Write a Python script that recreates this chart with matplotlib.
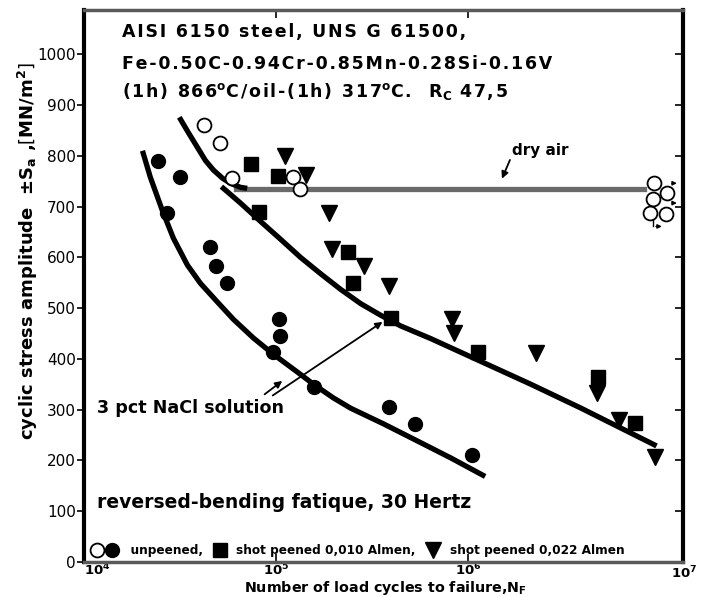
import numpy as np
import matplotlib
matplotlib.use("Agg")
import matplotlib.pyplot as plt
from matplotlib.legend_handler import HandlerTuple
from matplotlib.lines import Line2D

plt.rcParams['font.family'] = ['DejaVu Sans']
plt.rcParams['mathtext.default'] = 'bf'

# ---------------- data ----------------
# unpeened, dry air (open circles)
air_N = [4.24e4, 5.13e4, 5.93e4, 1.22e5, 1.34e5]
air_S = [860, 825, 756, 758, 734]
# dry-air run-outs (open circles at 10^7)
runout_N = [9.35e6, 1.09e7, 9.25e6, 8.9e6, 1.08e7]
runout_S = [746, 726, 716, 687, 685]
# unpeened, 3 pct NaCl (filled circles)
nacl_N = [2.43e4, 3.17e4, 2.71e4, 4.55e4, 4.89e4, 5.58e4, 1.04e5, 1.05e5,
          9.7e4, 1.57e5, 3.87e5, 5.28e5, 1.05e6]
nacl_S = [789, 758, 687, 620, 583, 549, 478, 445, 413, 344, 305, 272, 211]
# shot peened 0.010 Almen (squares)
sq_N = [7.45e4, 1.02e5, 8.2e4, 2.36e5, 2.51e5, 3.96e5, 1.13e6, 4.77e6, 7.45e6]
sq_S = [783, 760, 689, 610, 549, 480, 413, 364, 274]
# shot peened 0.022 Almen (triangles)
tri_N = [1.12e5, 1.44e5, 1.88e5, 1.95e5, 2.86e5, 3.86e5, 8.24e5, 8.45e5,
         2.26e6, 4.72e6, 6.15e6, 9.48e6]
tri_S = [799, 762, 687, 616, 583, 543, 478, 451, 411, 333, 280, 207]

# hand-drawn trend curves (log10 N, S)
dry_curve_logN = [4.496, 4.543, 4.590, 4.632, 4.674, 4.721, 4.762, 4.815, 4.850]
dry_curve_S = [876, 846, 817, 791, 772, 756, 746, 738, 736]
dry_flat_logN = [4.79, 6.919]
dry_flat_S = [735, 735]
nacl_curve_logN = [4.308, 4.345, 4.407, 4.465, 4.538, 4.606, 4.695, 4.778, 4.883,
                   4.987, 5.112, 5.196, 5.300, 5.389, 5.561, 5.739, 5.911, 6.078]
nacl_curve_S = [805, 758, 693, 638, 585, 549, 512, 478, 441, 409, 374, 350, 323,
                303, 272, 238, 205, 171]
peen_curve_logN = [4.726, 4.815, 4.919, 5.023, 5.128, 5.232, 5.337, 5.441, 5.546,
                   5.650, 5.807, 6.068, 6.329, 6.590, 6.971]
peen_curve_S = [736, 707, 671, 636, 600, 568, 537, 509, 486, 465, 440, 395, 350,
                303, 231]

yticks = list(range(0, 1001, 100))
xticks = [1e4, 1e5, 1e6]
xticklabels = ['$10^{4}$', '$10^{5}$', '$10^{6}$']


def spaced(s):
    """add hair spaces between letters outside math segments (letter-spaced look)"""
    parts = s.split('$')
    for i in range(0, len(parts), 2):
        parts[i] = '\u200a'.join(parts[i])
    return '$'.join(parts)


# ---------------- figure ----------------
fig = plt.figure(figsize=(7.01, 5.97), dpi=100)
ax = fig.add_axes([0.120, 0.0586, 0.854, 0.9244])
ax.set_xscale('log')
ax.set_xlim(1e4, 10**7.12)
ax.set_ylim(0, 1087)

# curves
lw = 3.8
ax.plot(10**np.array(dry_flat_logN), dry_flat_S, color='#6a6a6a', lw=lw, zorder=2)
ax.plot(10**np.array(dry_curve_logN), dry_curve_S, color='black', lw=lw,
        solid_capstyle='butt', zorder=3)
ax.plot(10**np.array(nacl_curve_logN), nacl_curve_S, color='black', lw=lw, zorder=3)
ax.plot(10**np.array(peen_curve_logN), peen_curve_S, color='black', lw=lw, zorder=3)

# markers
ms = 10
ax.plot(air_N, air_S, 'o', ms=ms, mfc='white', mec='black', mew=1.3, zorder=5)
ax.plot(runout_N, runout_S, 'o', ms=ms, mfc='white', mec='black', mew=1.3, zorder=5)
ax.plot(nacl_N, nacl_S, 'o', ms=ms, color='black', zorder=5)
ax.plot(sq_N, sq_S, 's', ms=ms, color='black', zorder=5)
ax.plot(tri_N, tri_S, 'v', ms=11, color='black', zorder=5)

# run-out arrows
arr = dict(arrowstyle='-|>', color='black', lw=1.0, mutation_scale=6)
ax.annotate('', xy=(1.27e7, 746), xytext=(1.12e7, 746), arrowprops=arr)
ax.annotate('', xy=(1.27e7, 707), xytext=(1.12e7, 707), arrowprops=arr)
ax.plot([9.25e6, 9.25e6], [703, 661], color='black', lw=1.0)
ax.annotate('', xy=(1.06e7, 661), xytext=(9.25e6, 661), arrowprops=arr)

# annotations
ax.annotate('', xy=(10**6.172, 750), xytext=(10**6.225, 797),
            arrowprops=dict(arrowstyle='-|>', color='black', lw=1.3, mutation_scale=10))
ax.text(0.7145, 0.737, 'dry air', transform=ax.transAxes, fontsize=11,
        fontweight='bold', ha='left', va='baseline')

ax.annotate('', xy=(10**5.044, 360), xytext=(10**4.929, 327),
            arrowprops=dict(arrowstyle='-|>', color='black', lw=1.3, mutation_scale=10))
ax.annotate('', xy=(10**5.567, 476), xytext=(10**4.971, 325),
            arrowprops=dict(arrowstyle='-|>', color='black', lw=1.3, mutation_scale=10))
ax.text(0.0217, 0.270, '3 pct NaCl solution', transform=ax.transAxes, fontsize=12.6,
        fontweight='bold', ha='left', va='baseline')

ax.text(0.0217, 0.098, 'reversed-bending fatique, 30 Hertz', transform=ax.transAxes,
        fontsize=13.5, fontweight='bold', ha='left', va='baseline')

tfs = 12.5
ax.text(0.0634, 0.951, spaced('AISI 6150 steel, UNS G 61500,'), transform=ax.transAxes,
        fontsize=tfs, fontweight='bold', ha='left', va='baseline')
ax.text(0.0634, 0.893, spaced('Fe-0.50C-0.94Cr-0.85Mn-0.28Si-0.16V'),
        transform=ax.transAxes, fontsize=tfs, fontweight='bold', ha='left', va='baseline')
ax.text(0.0634, 0.843, spaced('(1h) 866$^{o}$C/oil-(1h) 317$^{o}$C.  R$_{C}$ 47,5'),
        transform=ax.transAxes, fontsize=tfs, fontweight='bold', ha='left', va='baseline')

# legend
h_open = Line2D([], [], ls='none', marker='o', ms=ms, mfc='white', mec='black', mew=1.3)
h_fill = Line2D([], [], ls='none', marker='o', ms=ms, color='black')
h_sq = Line2D([], [], ls='none', marker='s', ms=ms, color='black')
h_tri = Line2D([], [], ls='none', marker='v', ms=11, color='black')
ax.legend([(h_open, h_fill), h_sq, h_tri],
          ['  unpeened,', 'shot peened 0,010 Almen,', 'shot peened 0,022 Almen'],
          handler_map={tuple: HandlerTuple(ndivide=None, pad=0.0)},
          loc='lower left', bbox_to_anchor=(-0.004, -0.006), ncol=3, frameon=False,
          prop=dict(size=8.7, weight='bold'),
          handlelength=2.4, handletextpad=0.2, columnspacing=0.2, borderpad=0.2)

# axes styling
for s in ['left', 'right']:
    ax.spines[s].set_linewidth(3.0)
    ax.spines[s].set_color('black')
for s in ['top', 'bottom']:
    ax.spines[s].set_linewidth(2.5)
    ax.spines[s].set_color('#5a5a5a')

ax.set_yticks(yticks)
ax.set_yticklabels([str(v) for v in yticks], fontsize=11)
ax.tick_params(axis='y', direction='out', length=5, width=1.2, left=True, right=False, pad=1)
ax.set_xticks(xticks)
ax.set_xticklabels(xticklabels, fontsize=9.5)
ax.get_xticklabels()[0].set_ha('left')
ax.xaxis.set_minor_locator(matplotlib.ticker.NullLocator())
ax.tick_params(axis='x', direction='in', length=6, width=1.2, top=True, bottom=True, pad=0)
ax.text(1.025, -0.004, '$10^{7}$', transform=ax.transAxes, fontsize=9.5,
        ha='right', va='top')

sec = ax.secondary_yaxis('right')
sec.set_yticks(yticks)
sec.tick_params(direction='in', length=6, width=1.2, labelright=False)
sec.spines['right'].set_visible(False)

ax.set_ylabel('cyclic stress amplitude  $\\pm$S$_{a}$ ,$\\left[MN/m^{2}\\right]$',
              fontsize=13, fontweight='bold')
ax.yaxis.set_label_coords(-0.074, 0.563)
ax.set_xlabel('Number of load cycles to failure,N$_{F}$', fontsize=10.3, fontweight='bold')
ax.xaxis.set_label_coords(0.504, -0.030)

fig.savefig('out.png', dpi=100)
